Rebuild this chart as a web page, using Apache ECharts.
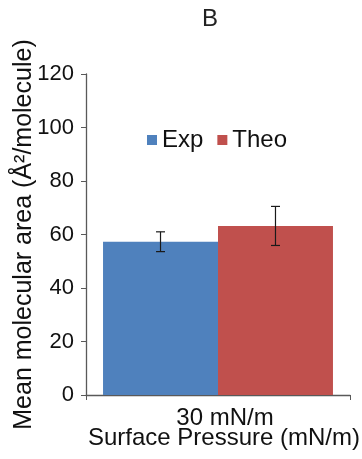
<!DOCTYPE html>
<html>
<head>
<meta charset="utf-8">
<style>
  html, body { margin: 0; padding: 0; background: #fff; }
  #chart { width: 362px; height: 459px; }
</style>
<script src="https://cdn.jsdelivr.net/npm/echarts@6/dist/echarts.min.js"></script>
</head>
<body>
<div id="chart"></div>
<script>
// Mean molecular area at 30 mN/m: experimental vs theoretical
const categories = ['30 mN/m'];
const seriesNames = ['Exp', 'Theo'];
const expValues = [57.3];
const theoValues = [63.2];
const expErrors = [3.7];
const theoErrors = [7.3];
const yTicks = { min: 0, max: 120, interval: 20 };

const colors = ['#4F81BD', '#C0504D'];
const font = 'Liberation Sans';
const categoryGap = 0.129;

const chart = echarts.init(document.getElementById('chart'));

// Error whiskers drawn on top of each bar; side picks the half of the category slot
function errorSeries(values, errors, side) {
  return {
    type: 'custom',
    silent: true,
    z: 10,
    data: values.map((v, i) => [i, v, errors[i]]),
    renderItem: function (params, api) {
      const idx = api.value(0);
      const val = api.value(1);
      const err = api.value(2);
      const slot = api.size([1, 0])[0];
      const barW = slot * (1 - categoryGap) / 2;
      const center = api.coord([idx, val]);
      const x = center[0] + side * barW / 2;
      const yHi = api.coord([idx, val + err])[1];
      const yLo = api.coord([idx, val - err])[1];
      const cap = 4.5;
      const style = { stroke: '#1a1a1a', lineWidth: 1.2 };
      return {
        type: 'group',
        children: [
          { type: 'line', shape: { x1: x, y1: yHi, x2: x, y2: yLo }, style: style },
          { type: 'line', shape: { x1: x - cap, y1: yHi, x2: x + cap, y2: yHi }, style: style },
          { type: 'line', shape: { x1: x - cap, y1: yLo, x2: x + cap, y2: yLo }, style: style }
        ]
      };
    }
  };
}

chart.setOption({
  animation: false,
  textStyle: { fontFamily: font },
  title: {
    text: '{b|B}',
    left: 202,
    top: 5,
    padding: 0,
    textStyle: {
      rich: { b: { fontFamily: font, fontSize: 24, fontWeight: 'normal', color: '#222', lineHeight: 28 } }
    }
  },
  legend: {
    data: seriesNames,
    left: 142,
    top: 123,
    itemWidth: 10,
    itemHeight: 10,
    itemGap: 14,
    icon: 'rect',
    textStyle: { fontFamily: font, fontSize: 24, color: '#111', padding: [0, 0, 0, 0] }
  },
  grid: { left: 86, right: 12, top: 74, bottom: 64, containLabel: false, outerBoundsMode: 'none' },
  xAxis: {
    type: 'category',
    data: categories,
    name: 'Surface Pressure (mN/m)',
    nameLocation: 'middle',
    nameGap: 31,
    nameMoveOverlap: false,
    nameTextStyle: { fontFamily: font, fontSize: 24, color: '#111', padding: [0, 0, 0, 12] },
    axisLine: { lineStyle: { color: '#595959', width: 1.3 } },
    axisTick: { show: true, length: 5, lineStyle: { color: '#595959' } },
    axisLabel: { fontFamily: font, fontSize: 24, color: '#111', margin: 11, padding: [0, 0, 0, 14] }
  },
  yAxis: {
    type: 'value',
    min: yTicks.min,
    max: yTicks.max,
    interval: yTicks.interval,
    name: 'Mean molecular area (Å²/molecule)',
    nameLocation: 'middle',
    nameGap: 49,
    nameMoveOverlap: false,
    nameTextStyle: { fontFamily: font, fontSize: 25, color: '#111' },
    axisLine: { show: true, lineStyle: { color: '#595959', width: 1.3 } },
    axisTick: { show: true, length: 5, lineStyle: { color: '#595959' } },
    axisLabel: { fontFamily: font, fontSize: 22, color: '#111', margin: 12 },
    splitLine: { show: false }
  },
  series: [
    {
      name: seriesNames[0],
      type: 'bar',
      data: expValues,
      itemStyle: { color: colors[0] },
      barGap: '0%',
      barCategoryGap: (categoryGap * 100) + '%'
    },
    {
      name: seriesNames[1],
      type: 'bar',
      data: theoValues,
      itemStyle: { color: colors[1] },
      barGap: '0%',
      barCategoryGap: (categoryGap * 100) + '%'
    },
    errorSeries(expValues, expErrors, -1),
    errorSeries(theoValues, theoErrors, 1)
  ]
});
</script>
</body>
</html>
